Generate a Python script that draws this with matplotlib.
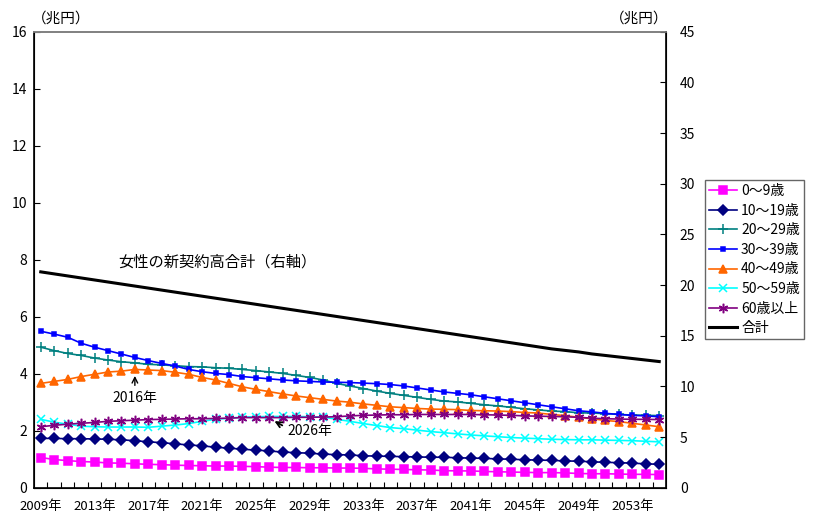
import matplotlib
matplotlib.use("Agg")
import matplotlib.pyplot as plt
from matplotlib.ticker import MultipleLocator, FixedLocator

plt.rcParams['font.family'] = ['Noto Sans CJK JP', 'DejaVu Sans']

years = list(range(2009, 2056))

age_0_9 = [1.06, 0.99, 0.95, 0.92, 0.90, 0.87, 0.86, 0.84, 0.82, 0.81, 0.79, 0.78,
           0.77, 0.76, 0.76, 0.75, 0.74, 0.72, 0.71, 0.71, 0.70, 0.70, 0.69, 0.69,
           0.68, 0.66, 0.65, 0.64, 0.63, 0.62, 0.60, 0.59, 0.59, 0.57, 0.56, 0.55,
           0.54, 0.53, 0.53, 0.52, 0.50, 0.49, 0.49, 0.48, 0.47, 0.47, 0.46]
age_10_19 = [1.73, 1.73, 1.72, 1.72, 1.71, 1.70, 1.68, 1.65, 1.61, 1.58, 1.54, 1.50,
             1.47, 1.42, 1.39, 1.35, 1.32, 1.29, 1.25, 1.23, 1.21, 1.18, 1.16, 1.15,
             1.12, 1.11, 1.10, 1.09, 1.08, 1.07, 1.07, 1.05, 1.04, 1.03, 1.01, 1.00,
             0.98, 0.97, 0.96, 0.94, 0.93, 0.91, 0.89, 0.88, 0.86, 0.84, 0.82]
age_20_29 = [4.93, 4.81, 4.71, 4.64, 4.55, 4.48, 4.42, 4.38, 4.33, 4.31, 4.28, 4.25,
             4.24, 4.21, 4.19, 4.15, 4.11, 4.06, 4.01, 3.94, 3.87, 3.78, 3.66, 3.57,
             3.48, 3.39, 3.31, 3.24, 3.17, 3.10, 3.04, 3.01, 2.96, 2.91, 2.87, 2.82,
             2.77, 2.73, 2.69, 2.67, 2.63, 2.62, 2.60, 2.57, 2.55, 2.54, 2.53]
age_30_39 = [5.49, 5.39, 5.28, 5.07, 4.93, 4.81, 4.69, 4.57, 4.46, 4.36, 4.27, 4.15,
             4.07, 4.01, 3.97, 3.90, 3.86, 3.82, 3.78, 3.75, 3.73, 3.71, 3.70, 3.69,
             3.67, 3.65, 3.62, 3.57, 3.50, 3.43, 3.36, 3.31, 3.26, 3.19, 3.12, 3.05,
             2.98, 2.91, 2.84, 2.77, 2.70, 2.66, 2.61, 2.57, 2.54, 2.52, 2.49]
age_40_49 = [3.66, 3.73, 3.80, 3.90, 3.98, 4.06, 4.09, 4.15, 4.13, 4.11, 4.05, 3.98,
             3.87, 3.78, 3.66, 3.54, 3.45, 3.37, 3.29, 3.22, 3.16, 3.10, 3.04, 3.00,
             2.94, 2.89, 2.84, 2.81, 2.78, 2.76, 2.75, 2.74, 2.71, 2.70, 2.69, 2.67,
             2.64, 2.62, 2.57, 2.53, 2.47, 2.42, 2.36, 2.32, 2.26, 2.20, 2.14]
age_50_59 = [2.40, 2.30, 2.23, 2.16, 2.14, 2.13, 2.13, 2.13, 2.12, 2.16, 2.20, 2.25,
             2.33, 2.40, 2.44, 2.48, 2.49, 2.50, 2.50, 2.50, 2.49, 2.48, 2.40, 2.33,
             2.25, 2.18, 2.11, 2.07, 2.02, 1.97, 1.93, 1.89, 1.85, 1.82, 1.79, 1.76,
             1.74, 1.72, 1.70, 1.69, 1.68, 1.68, 1.67, 1.66, 1.65, 1.63, 1.61]
age_60_over = [2.14, 2.19, 2.23, 2.26, 2.29, 2.33, 2.35, 2.37, 2.39, 2.40, 2.41, 2.42,
               2.42, 2.43, 2.44, 2.46, 2.46, 2.46, 2.46, 2.47, 2.47, 2.48, 2.49, 2.52,
               2.54, 2.55, 2.56, 2.56, 2.57, 2.57, 2.57, 2.57, 2.57, 2.56, 2.55, 2.54,
               2.52, 2.51, 2.50, 2.49, 2.47, 2.44, 2.42, 2.41, 2.40, 2.40, 2.39]
total = [21.3, 21.1, 20.9, 20.7, 20.5, 20.3, 20.1, 19.9, 19.7, 19.5, 19.3, 19.1,
         18.9, 18.7, 18.5, 18.3, 18.1, 17.9, 17.7, 17.5, 17.3, 17.1, 16.9, 16.7,
         16.5, 16.3, 16.1, 15.9, 15.7, 15.5, 15.3, 15.1, 14.9, 14.7, 14.5, 14.3,
         14.1, 13.9, 13.7, 13.55, 13.4, 13.2, 13.05, 12.9, 12.75, 12.6, 12.45]

labels = ['0～9歳', '10～19歳', '20～29歳', '30～39歳', '40～49歳', '50～59歳', '60歳以上']
series = [age_0_9, age_10_19, age_20_29, age_30_39, age_40_49, age_50_59, age_60_over]
colors = ['#FF00FF', '#000080', '#008080', '#0000FF', '#FF6600', '#00FFFF', '#800080']
markers = ['s', 'D', '+', 's', '^', 'x', (6, 2, 0)]
msizes = [5.8, 4.6, 6.5, 2.2, 6.2, 5.8, 6.8]

x = list(range(len(years)))

fig = plt.figure(figsize=(8.24, 5.16), dpi=100)
ax = fig.add_axes([0.0413, 0.0548, 0.7669, 0.8838])
ax2 = ax.twinx()

handles = []
for vals, lab, c, m, ms in zip(series, labels, colors, markers, msizes):
    h, = ax.plot(x, vals, color=c, marker=m, markersize=ms, lw=1.2,
                 markeredgewidth=1.1, label=lab)
    handles.append(h)
h, = ax2.plot(x, total, color='black', lw=2.2, label='合計')
handles.append(h)

ax.set_xlim(-0.5, len(years) - 0.5)
ax.set_ylim(0, 16)
ax2.set_ylim(0, 45)
ax.yaxis.set_major_locator(MultipleLocator(2))
ax2.yaxis.set_major_locator(MultipleLocator(5))

ax.set_xticks(x[::4])
ax.set_xticklabels([f'{y}年' for y in years[::4]])
ax.xaxis.set_minor_locator(FixedLocator([i + 0.5 for i in x[:-1]]))
ax.tick_params(axis='x', which='major', length=0, pad=9, labelsize=9.5)
ax.tick_params(axis='x', which='minor', direction='in', length=4, width=0.8)
ax.tick_params(axis='y', direction='in', length=4, width=0.8, pad=5, labelsize=10)
ax2.tick_params(axis='y', direction='in', length=4, width=0.8, pad=10, labelsize=10)

for a in (ax, ax2):
    a.spines['top'].set_color('#808080')
    a.spines['top'].set_linewidth(1.2)
ax.spines['left'].set_linewidth(1.2)
ax.spines['bottom'].set_linewidth(1.2)
ax2.spines['right'].set_linewidth(1.2)

ax.text(5.8, 7.92, '女性の新契約高合計（右軸）', fontsize=11, ha='left', va='center')
ax.annotate('2016年', xy=(7, 4.02), xytext=(7, 3.15), fontsize=10,
            ha='center', va='center',
            arrowprops=dict(arrowstyle='->', color='black', lw=1))
ax.annotate('2026年', xy=(17.2, 2.38), xytext=(18.35, 1.99), fontsize=10,
            ha='left', va='center',
            arrowprops=dict(arrowstyle='->', color='black', lw=1.3, relpos=(0, 0.7)))

fig.text(32 / 824, 1 - 19 / 516, '（兆円）', fontsize=10.5, ha='left', va='center')
fig.text(668 / 824, 1 - 19 / 516, '（兆円）', fontsize=10.5, ha='right', va='center')

leg = fig.legend(handles=handles, loc='upper left',
                 bbox_to_anchor=(705 / 824, 1 - 180 / 516), fontsize=10,
                 frameon=True, fancybox=False, handlelength=2.0,
                 handletextpad=0.3, labelspacing=0.4, borderpad=0.3,
                 borderaxespad=0)
leg.get_frame().set_edgecolor('#404040')
leg.get_frame().set_linewidth(1.0)

fig.savefig('out.png', dpi=100)
